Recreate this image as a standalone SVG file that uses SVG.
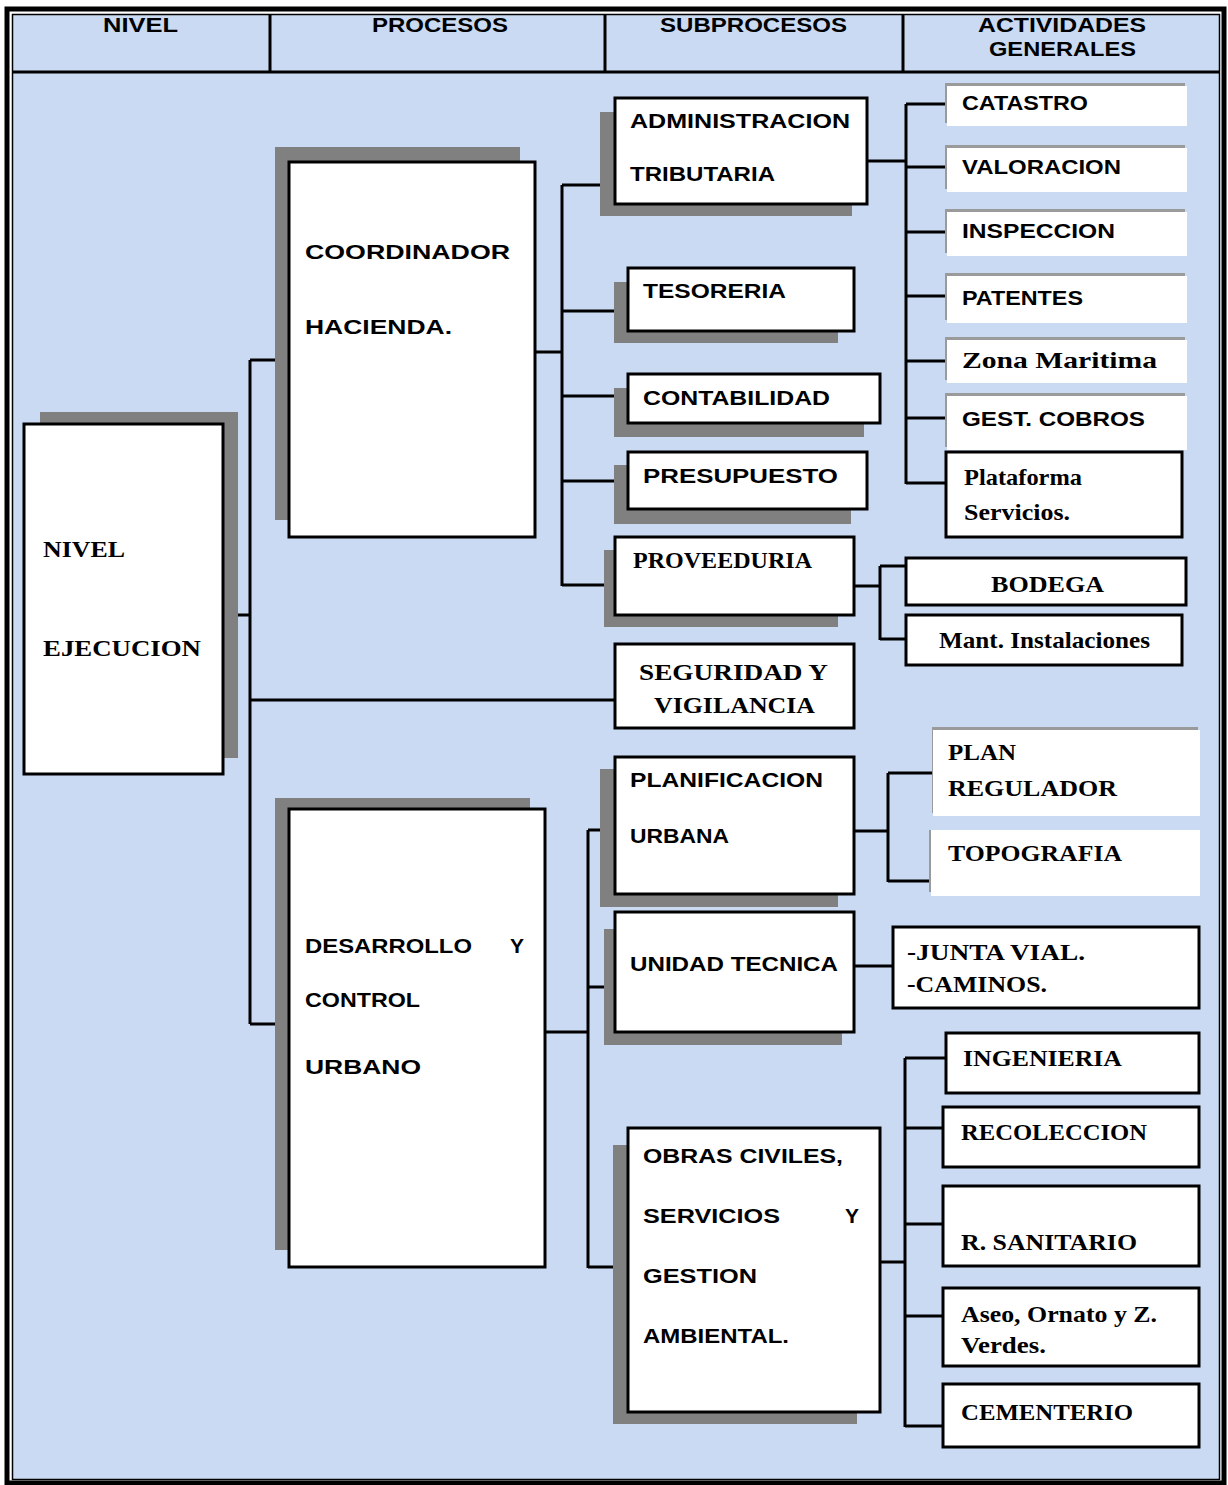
<svg xmlns="http://www.w3.org/2000/svg" width="1228" height="1485" viewBox="0 0 1228 1485">
<style>
.box{fill:#fff;stroke:#000;stroke-width:3}
.sh{fill:#808080}
.pl{fill:#fff}
.gl{fill:#9a9a9a}
.conn line{stroke:#000;stroke-width:3}
.t{font-family:"Liberation Sans",Arial,sans-serif;font-weight:bold;font-size:21px;fill:#000}
.s{font-family:"Liberation Serif","Times New Roman",serif;font-weight:bold;font-size:23px;fill:#000}
</style>
<rect x="0" y="0" width="1228" height="1485" fill="#fff"/>
<g id="frame">
<rect x="12" y="14" width="1208" height="1466" fill="#C9DAF2"/>
<rect x="7" y="9" width="1217" height="1474" fill="none" stroke="#000" stroke-width="5"/>
<rect x="12.5" y="14.5" width="1207" height="1465" fill="none" stroke="#000" stroke-width="1.5"/>
<line x1="12" y1="72" x2="1220" y2="72" stroke="#000" stroke-width="3"/>
<line x1="270" y1="14" x2="270" y2="72" stroke="#000" stroke-width="3"/>
<line x1="605" y1="14" x2="605" y2="72" stroke="#000" stroke-width="3"/>
<line x1="903" y1="14" x2="903" y2="72" stroke="#000" stroke-width="3"/>
<text class="t" x="103" y="32" textLength="75" lengthAdjust="spacingAndGlyphs">NIVEL</text>
<text class="t" x="372" y="32" textLength="136" lengthAdjust="spacingAndGlyphs">PROCESOS</text>
<text class="t" x="660" y="32" textLength="187" lengthAdjust="spacingAndGlyphs">SUBPROCESOS</text>
<text class="t" x="978" y="32" textLength="168" lengthAdjust="spacingAndGlyphs">ACTIVIDADES</text>
<text class="t" x="989" y="56" textLength="147" lengthAdjust="spacingAndGlyphs">GENERALES</text>
</g>
<g class="conn" id="connectors">
<line x1="223" y1="615" x2="250" y2="615"/>
<line x1="250" y1="360" x2="250" y2="1024"/>
<line x1="250" y1="360" x2="289" y2="360"/>
<line x1="250" y1="700" x2="615" y2="700"/>
<line x1="250" y1="1024" x2="289" y2="1024"/>
<line x1="535" y1="352" x2="562" y2="352"/>
<line x1="562" y1="185" x2="562" y2="586"/>
<line x1="562" y1="185" x2="615" y2="185"/>
<line x1="562" y1="311" x2="628" y2="311"/>
<line x1="562" y1="396" x2="628" y2="396"/>
<line x1="562" y1="481" x2="628" y2="481"/>
<line x1="562" y1="585" x2="615" y2="585"/>
<line x1="867" y1="161" x2="906" y2="161"/>
<line x1="906" y1="104" x2="906" y2="484"/>
<line x1="906" y1="104" x2="946" y2="104"/>
<line x1="906" y1="167" x2="946" y2="167"/>
<line x1="906" y1="232" x2="946" y2="232"/>
<line x1="906" y1="296" x2="946" y2="296"/>
<line x1="906" y1="361" x2="946" y2="361"/>
<line x1="906" y1="418" x2="946" y2="418"/>
<line x1="906" y1="483" x2="946" y2="483"/>
<line x1="854" y1="586" x2="880" y2="586"/>
<line x1="880" y1="566" x2="880" y2="640"/>
<line x1="880" y1="566" x2="906" y2="566"/>
<line x1="880" y1="639" x2="906" y2="639"/>
<line x1="545" y1="1032" x2="588" y2="1032"/>
<line x1="588" y1="830" x2="588" y2="1268"/>
<line x1="588" y1="830" x2="615" y2="830"/>
<line x1="588" y1="987" x2="604" y2="987"/>
<line x1="588" y1="1267" x2="613" y2="1267"/>
<line x1="854" y1="831" x2="888" y2="831"/>
<line x1="888" y1="773" x2="888" y2="882"/>
<line x1="888" y1="773" x2="932" y2="773"/>
<line x1="888" y1="881" x2="930" y2="881"/>
<line x1="854" y1="966" x2="893" y2="966"/>
<line x1="880" y1="1262" x2="905" y2="1262"/>
<line x1="905" y1="1058" x2="905" y2="1427"/>
<line x1="905" y1="1058" x2="946" y2="1058"/>
<line x1="905" y1="1128" x2="943" y2="1128"/>
<line x1="905" y1="1224" x2="943" y2="1224"/>
<line x1="905" y1="1316" x2="943" y2="1316"/>
<line x1="905" y1="1426" x2="943" y2="1426"/>
</g>
<g id="nivel-ejecucion">
<rect class="sh" x="40" y="412" width="198" height="346"/>
<rect class="box" x="24" y="424" width="199" height="350"/>
<text class="s" x="43" y="557" textLength="82" lengthAdjust="spacingAndGlyphs">NIVEL</text>
<text class="s" x="43" y="656" textLength="158" lengthAdjust="spacingAndGlyphs">EJECUCION</text>
</g>
<g id="coordinador-hacienda">
<rect class="sh" x="275" y="147" width="245" height="373"/>
<rect class="box" x="289" y="162" width="246" height="375"/>
<text class="t" x="305" y="259" textLength="205" lengthAdjust="spacingAndGlyphs">COORDINADOR</text>
<text class="t" x="305" y="334" textLength="147" lengthAdjust="spacingAndGlyphs">HACIENDA.</text>
</g>
<g id="desarrollo-control-urbano">
<rect class="sh" x="275" y="798" width="255" height="452"/>
<rect class="box" x="289" y="809" width="256" height="458"/>
<text class="t" x="305" y="953" textLength="167" lengthAdjust="spacingAndGlyphs">DESARROLLO</text>
<text class="t" x="510" y="953">Y</text>
<text class="t" x="305" y="1007" textLength="115" lengthAdjust="spacingAndGlyphs">CONTROL</text>
<text class="t" x="305" y="1074" textLength="116" lengthAdjust="spacingAndGlyphs">URBANO</text>
</g>
<g id="administracion-tributaria">
<rect class="sh" x="600" y="112" width="252" height="104"/>
<rect class="box" x="615" y="98" width="252" height="106"/>
<text class="t" x="630" y="128" textLength="220" lengthAdjust="spacingAndGlyphs">ADMINISTRACION</text>
<text class="t" x="630" y="181" textLength="145" lengthAdjust="spacingAndGlyphs">TRIBUTARIA</text>
</g>
<g id="tesoreria">
<rect class="sh" x="614" y="282" width="224" height="61"/>
<rect class="box" x="628" y="268" width="226" height="63"/>
<text class="t" x="643" y="298" textLength="143" lengthAdjust="spacingAndGlyphs">TESORERIA</text>
</g>
<g id="contabilidad">
<rect class="sh" x="614" y="388" width="250" height="49"/>
<rect class="box" x="628" y="374" width="252" height="49"/>
<text class="t" x="643" y="405" textLength="187" lengthAdjust="spacingAndGlyphs">CONTABILIDAD</text>
</g>
<g id="presupuesto">
<rect class="sh" x="614" y="465" width="237" height="59"/>
<rect class="box" x="628" y="452" width="239" height="57"/>
<text class="t" x="643" y="483" textLength="195" lengthAdjust="spacingAndGlyphs">PRESUPUESTO</text>
</g>
<g id="proveeduria">
<rect class="sh" x="604" y="550" width="234" height="77"/>
<rect class="box" x="615" y="537" width="239" height="78"/>
<text class="s" x="633" y="568" textLength="179" lengthAdjust="spacingAndGlyphs">PROVEEDURIA</text>
</g>
<g id="seguridad-vigilancia">
<rect class="box" x="615" y="644" width="239" height="84"/>
<text class="s" x="639" y="680" textLength="189" lengthAdjust="spacingAndGlyphs">SEGURIDAD  Y</text>
<text class="s" x="654" y="713" textLength="161" lengthAdjust="spacingAndGlyphs">VIGILANCIA</text>
</g>
<g id="planificacion-urbana">
<rect class="sh" x="600" y="769" width="238" height="138"/>
<rect class="box" x="615" y="757" width="239" height="137"/>
<text class="t" x="630" y="787" textLength="193" lengthAdjust="spacingAndGlyphs">PLANIFICACION</text>
<text class="t" x="630" y="843" textLength="99" lengthAdjust="spacingAndGlyphs">URBANA</text>
</g>
<g id="unidad-tecnica">
<rect class="sh" x="604" y="929" width="238" height="116"/>
<rect class="box" x="615" y="912" width="239" height="120"/>
<text class="t" x="630" y="971" textLength="208" lengthAdjust="spacingAndGlyphs">UNIDAD TECNICA</text>
</g>
<g id="obras-civiles">
<rect class="sh" x="613" y="1145" width="244" height="279"/>
<rect class="box" x="628" y="1128" width="252" height="284"/>
<text class="t" x="643" y="1163" textLength="200" lengthAdjust="spacingAndGlyphs">OBRAS CIVILES,</text>
<text class="t" x="643" y="1223" textLength="137" lengthAdjust="spacingAndGlyphs">SERVICIOS</text>
<text class="t" x="845" y="1223">Y</text>
<text class="t" x="643" y="1283" textLength="114" lengthAdjust="spacingAndGlyphs">GESTION</text>
<text class="t" x="643" y="1343" textLength="146" lengthAdjust="spacingAndGlyphs">AMBIENTAL.</text>
</g>
<g id="catastro">
<rect class="gl" x="945" y="83" width="240" height="40"/>
<rect class="pl" x="947" y="86" width="240" height="40"/>
<text class="t" x="962" y="110" textLength="126" lengthAdjust="spacingAndGlyphs">CATASTRO</text>
</g>
<g id="valoracion">
<rect class="gl" x="945" y="145" width="240" height="44"/>
<rect class="pl" x="947" y="148" width="240" height="44"/>
<text class="t" x="962" y="174" textLength="159" lengthAdjust="spacingAndGlyphs">VALORACION</text>
</g>
<g id="inspeccion">
<rect class="gl" x="945" y="209" width="240" height="44"/>
<rect class="pl" x="947" y="212" width="240" height="44"/>
<text class="t" x="962" y="238" textLength="153" lengthAdjust="spacingAndGlyphs">INSPECCION</text>
</g>
<g id="patentes">
<rect class="gl" x="945" y="273" width="240" height="47"/>
<rect class="pl" x="947" y="276" width="240" height="47"/>
<text class="t" x="962" y="305" textLength="121" lengthAdjust="spacingAndGlyphs">PATENTES</text>
</g>
<g id="zona-maritima">
<rect class="gl" x="945" y="337" width="240" height="43"/>
<rect class="pl" x="947" y="340" width="240" height="43"/>
<text class="s" x="962" y="368" textLength="195" lengthAdjust="spacingAndGlyphs">Zona Maritima</text>
</g>
<g id="gest-cobros">
<rect class="gl" x="945" y="393" width="240" height="54"/>
<rect class="pl" x="947" y="396" width="240" height="54"/>
<text class="t" x="962" y="426" textLength="183" lengthAdjust="spacingAndGlyphs">GEST. COBROS</text>
</g>
<g id="plataforma-servicios">
<rect class="box" x="946" y="452" width="236" height="85"/>
<text class="s" x="964" y="485" textLength="118" lengthAdjust="spacingAndGlyphs">Plataforma</text>
<text class="s" x="964" y="520" textLength="106" lengthAdjust="spacingAndGlyphs">Servicios.</text>
</g>
<g id="bodega">
<rect class="box" x="906" y="558" width="280" height="47"/>
<text class="s" x="991" y="592" textLength="113" lengthAdjust="spacingAndGlyphs">BODEGA</text>
</g>
<g id="mant-instalaciones">
<rect class="box" x="906" y="615" width="276" height="50"/>
<text class="s" x="939" y="648" textLength="211" lengthAdjust="spacingAndGlyphs">Mant. Instalaciones</text>
</g>
<g id="plan-regulador">
<rect class="gl" x="932" y="727" width="266" height="86"/>
<rect class="pl" x="933" y="730" width="267" height="86"/>
<text class="s" x="948" y="760" textLength="68" lengthAdjust="spacingAndGlyphs">PLAN</text>
<text class="s" x="948" y="796" textLength="169" lengthAdjust="spacingAndGlyphs">REGULADOR</text>
</g>
<g id="topografia">
<rect class="gl" x="929" y="830" width="269" height="62"/>
<rect class="pl" x="931" y="830" width="269" height="66"/>
<text class="s" x="948" y="861" textLength="174" lengthAdjust="spacingAndGlyphs">TOPOGRAFIA</text>
</g>
<g id="junta-vial-caminos">
<rect class="box" x="893" y="927" width="306" height="81"/>
<text class="s" x="907" y="960" textLength="178" lengthAdjust="spacingAndGlyphs">-JUNTA VIAL.</text>
<text class="s" x="907" y="992" textLength="140" lengthAdjust="spacingAndGlyphs">-CAMINOS.</text>
</g>
<g id="ingenieria">
<rect class="box" x="946" y="1033" width="253" height="60"/>
<text class="s" x="963" y="1066" textLength="159" lengthAdjust="spacingAndGlyphs">INGENIERIA</text>
</g>
<g id="recoleccion">
<rect class="box" x="943" y="1107" width="256" height="60"/>
<text class="s" x="961" y="1140" textLength="186" lengthAdjust="spacingAndGlyphs">RECOLECCION</text>
</g>
<g id="r-sanitario">
<rect class="box" x="943" y="1186" width="256" height="80"/>
<text class="s" x="961" y="1250" textLength="176" lengthAdjust="spacingAndGlyphs">R. SANITARIO</text>
</g>
<g id="aseo-ornato">
<rect class="box" x="943" y="1288" width="256" height="78"/>
<text class="s" x="961" y="1322" textLength="196" lengthAdjust="spacingAndGlyphs">Aseo, Ornato y Z.</text>
<text class="s" x="961" y="1353" textLength="85" lengthAdjust="spacingAndGlyphs">Verdes.</text>
</g>
<g id="cementerio">
<rect class="box" x="943" y="1384" width="256" height="63"/>
<text class="s" x="961" y="1420" textLength="172" lengthAdjust="spacingAndGlyphs">CEMENTERIO</text>
</g>
</svg>
